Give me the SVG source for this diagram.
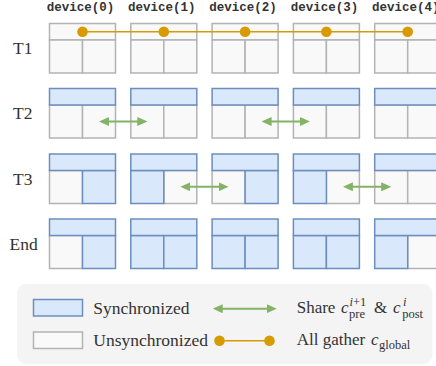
<svg xmlns="http://www.w3.org/2000/svg" width="436" height="366" viewBox="0 0 436 366">
<style>
.g{fill:#f9f9f9;stroke:#b3b3b3;stroke-width:1.5}
.b{fill:#dae8fc;stroke:#6c8ebf;stroke-width:1.5}
.dev{font-family:"Liberation Mono",monospace;font-weight:bold;font-size:12.5px;fill:#333;text-anchor:middle}
.lbl{font-family:"Liberation Serif",serif;font-size:17.5px;fill:#333}
.mth{font-family:"Liberation Serif",serif;font-size:17px;fill:#333}
.sc{font-size:12.5px}
.it{font-style:italic}
.sh{stroke:#82b366;stroke-width:2;fill:none}
.ag{stroke:#d79b00;stroke-width:1.5;fill:none}
.dot{fill:#d79b00}
</style>
<defs>
<marker id="ah" viewBox="0 0 10 9" refX="3" refY="4.5" markerWidth="10" markerHeight="9" markerUnits="userSpaceOnUse" orient="auto-start-reverse">
<path d="M0,0 L10,4.5 L0,9 z" fill="#82b366"/>
</marker>
</defs>
<rect x="17" y="284" width="415.5" height="80" rx="9" fill="#f4f4f4"/>
<g id="labels">
<text class="dev" x="80.5" y="10.5">device(0)</text>
<text class="dev" x="161.8" y="10.5">device(1)</text>
<text class="dev" x="243.1" y="10.5">device(2)</text>
<text class="dev" x="324.4" y="10.5">device(3)</text>
<text class="dev" x="405.7" y="10.5">device(4)</text>
<text class="lbl" x="13" y="54">T1</text>
<text class="lbl" x="13" y="119">T2</text>
<text class="lbl" x="13" y="184.5">T3</text>
<text class="lbl" x="9.5" y="249.5">End</text>
</g>
<!-- T1 -->
<g id="t1-d0"><rect class="g" x="49.5" y="23.5" width="66" height="16.5"/><rect class="g" x="49.5" y="40" width="33" height="33"/><rect class="g" x="82.5" y="40" width="33" height="33"/></g>
<g id="t1-d1"><rect class="g" x="130.8" y="23.5" width="66" height="16.5"/><rect class="g" x="130.8" y="40" width="33" height="33"/><rect class="g" x="163.8" y="40" width="33" height="33"/></g>
<g id="t1-d2"><rect class="g" x="212.1" y="23.5" width="66" height="16.5"/><rect class="g" x="212.1" y="40" width="33" height="33"/><rect class="g" x="245.1" y="40" width="33" height="33"/></g>
<g id="t1-d3"><rect class="g" x="293.4" y="23.5" width="66" height="16.5"/><rect class="g" x="293.4" y="40" width="33" height="33"/><rect class="g" x="326.4" y="40" width="33" height="33"/></g>
<g id="t1-d4"><rect class="g" x="374.7" y="23.5" width="66" height="16.5"/><rect class="g" x="374.7" y="40" width="33" height="33"/><rect class="g" x="407.7" y="40" width="33" height="33"/></g>
<!-- T2 -->
<g id="t2-d0"><rect class="g" x="49.5" y="105" width="33" height="33"/><rect class="g" x="82.5" y="105" width="33" height="33"/><rect class="b" x="49.5" y="88.5" width="66" height="16.5"/></g>
<g id="t2-d1"><rect class="g" x="130.8" y="105" width="33" height="33"/><rect class="g" x="163.8" y="105" width="33" height="33"/><rect class="b" x="130.8" y="88.5" width="66" height="16.5"/></g>
<g id="t2-d2"><rect class="g" x="212.1" y="105" width="33" height="33"/><rect class="g" x="245.1" y="105" width="33" height="33"/><rect class="b" x="212.1" y="88.5" width="66" height="16.5"/></g>
<g id="t2-d3"><rect class="g" x="293.4" y="105" width="33" height="33"/><rect class="g" x="326.4" y="105" width="33" height="33"/><rect class="b" x="293.4" y="88.5" width="66" height="16.5"/></g>
<g id="t2-d4"><rect class="g" x="374.7" y="105" width="33" height="33"/><rect class="g" x="407.7" y="105" width="33" height="33"/><rect class="b" x="374.7" y="88.5" width="66" height="16.5"/></g>
<!-- T3 -->
<g id="t3-d0"><rect class="g" x="49.5" y="170.5" width="33" height="33"/><rect class="b" x="82.5" y="170.5" width="33" height="33"/><rect class="b" x="49.5" y="154" width="66" height="16.5"/></g>
<g id="t3-d1"><rect class="g" x="163.8" y="170.5" width="33" height="33"/><rect class="b" x="130.8" y="170.5" width="33" height="33"/><rect class="b" x="130.8" y="154" width="66" height="16.5"/></g>
<g id="t3-d2"><rect class="g" x="212.1" y="170.5" width="33" height="33"/><rect class="b" x="245.1" y="170.5" width="33" height="33"/><rect class="b" x="212.1" y="154" width="66" height="16.5"/></g>
<g id="t3-d3"><rect class="g" x="326.4" y="170.5" width="33" height="33"/><rect class="b" x="293.4" y="170.5" width="33" height="33"/><rect class="b" x="293.4" y="154" width="66" height="16.5"/></g>
<g id="t3-d4"><rect class="g" x="374.7" y="170.5" width="33" height="33"/><rect class="g" x="407.7" y="170.5" width="33" height="33"/><rect class="b" x="374.7" y="154" width="66" height="16.5"/></g>
<!-- End -->
<g id="end-d0"><rect class="g" x="49.5" y="235.5" width="33" height="33"/><rect class="b" x="82.5" y="235.5" width="33" height="33"/><rect class="b" x="49.5" y="219" width="66" height="16.5"/></g>
<g id="end-d1"><rect class="b" x="130.8" y="235.5" width="33" height="33"/><rect class="b" x="163.8" y="235.5" width="33" height="33"/><rect class="b" x="130.8" y="219" width="66" height="16.5"/></g>
<g id="end-d2"><rect class="b" x="212.1" y="235.5" width="33" height="33"/><rect class="b" x="245.1" y="235.5" width="33" height="33"/><rect class="b" x="212.1" y="219" width="66" height="16.5"/></g>
<g id="end-d3"><rect class="b" x="293.4" y="235.5" width="33" height="33"/><rect class="b" x="326.4" y="235.5" width="33" height="33"/><rect class="b" x="293.4" y="219" width="66" height="16.5"/></g>
<g id="end-d4"><rect class="g" x="407.7" y="235.5" width="33" height="33"/><rect class="b" x="374.7" y="235.5" width="33" height="33"/><rect class="b" x="374.7" y="219" width="66" height="16.5"/></g>
<!-- connectors -->
<g id="connectors">
<line class="ag" x1="82.5" y1="31.75" x2="407.7" y2="31.75"/>
<circle class="dot" cx="82.5" cy="31.75" r="5.3"/>
<circle class="dot" cx="163.8" cy="31.75" r="5.3"/>
<circle class="dot" cx="245.1" cy="31.75" r="5.3"/>
<circle class="dot" cx="326.4" cy="31.75" r="5.3"/>
<circle class="dot" cx="407.7" cy="31.75" r="5.3"/>
<line class="sh" x1="106" y1="121.5" x2="140.3" y2="121.5" marker-start="url(#ah)" marker-end="url(#ah)"/>
<line class="sh" x1="268.6" y1="121.5" x2="302.9" y2="121.5" marker-start="url(#ah)" marker-end="url(#ah)"/>
<line class="sh" x1="187.3" y1="186.8" x2="221.6" y2="186.8" marker-start="url(#ah)" marker-end="url(#ah)"/>
<line class="sh" x1="349.9" y1="186.8" x2="384.2" y2="186.8" marker-start="url(#ah)" marker-end="url(#ah)"/>
</g>
<!-- legend -->
<g id="legend">
<rect class="b" x="33.5" y="299.5" width="49" height="16.5"/>
<rect class="g" x="33.5" y="332" width="49" height="16.5"/>
<text class="lbl" x="93.3" y="313.5">Synchronized</text>
<text class="lbl" x="93.3" y="346">Unsynchronized</text>
<line class="sh" x1="219.7" y1="308.7" x2="269.7" y2="308.7" marker-start="url(#ah)" marker-end="url(#ah)"/>
<line class="ag" x1="219.5" y1="340.7" x2="269.5" y2="340.7"/>
<circle class="dot" cx="219.5" cy="340.7" r="5.3"/>
<circle class="dot" cx="269.5" cy="340.7" r="5.3"/>
<text class="mth" x="296.7" y="313.3">Share<tspan class="it" x="341">c</tspan><tspan class="sc it" x="349.5" y="305.5">i</tspan><tspan class="sc" y="305.5">+1</tspan><tspan class="sc" x="349" y="317.5">pre</tspan><tspan x="374" y="313.3">&amp;</tspan><tspan class="it" x="393">c</tspan><tspan class="sc it" x="403" y="305.5">i</tspan><tspan class="sc" x="402.2" y="317.5">post</tspan></text>
<text class="mth" x="296.7" y="344.5">All gather<tspan class="it" x="371">c</tspan><tspan class="sc" x="379" y="348.5">global</tspan></text>
</g>
</svg>
